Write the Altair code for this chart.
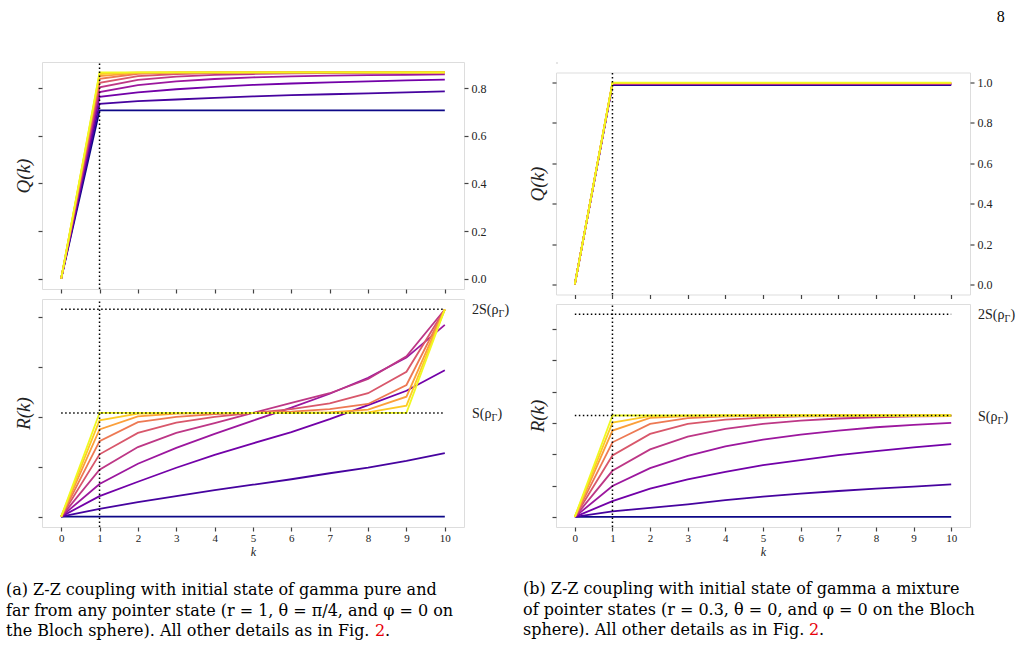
import altair as alt
import pandas as pd

# fragment index k on the horizontal axis
K = list(range(11))

# one colour per coupling strength (plasma)
LINE_COLORS = ["#0d0887", "#46039f", "#7201a8", "#9c179e", "#bd3786",
               "#d8576b", "#ed7953", "#fb9f3a", "#fdca26", "#f0f921"]

# (a) pure initial state: Q(k) and R(k)
Q_PURE = [
    [0.0, 0.706, 0.706, 0.706, 0.706, 0.706, 0.706, 0.706, 0.706, 0.706, 0.706],
    [0.0, 0.734, 0.745, 0.752, 0.759, 0.765, 0.770, 0.774, 0.778, 0.782, 0.786],
    [0.0, 0.763, 0.782, 0.795, 0.805, 0.813, 0.819, 0.824, 0.828, 0.832, 0.835],
    [0.0, 0.783, 0.812, 0.828, 0.838, 0.845, 0.849, 0.852, 0.854, 0.855, 0.857],
    [0.0, 0.803, 0.834, 0.848, 0.855, 0.859, 0.862, 0.863, 0.864, 0.865, 0.865],
    [0.0, 0.822, 0.850, 0.859, 0.863, 0.865, 0.866, 0.866, 0.866, 0.866, 0.866],
    [0.0, 0.839, 0.860, 0.865, 0.866, 0.866, 0.866, 0.866, 0.866, 0.866, 0.866],
    [0.0, 0.850, 0.864, 0.866, 0.866, 0.866, 0.866, 0.866, 0.866, 0.866, 0.866],
    [0.0, 0.859, 0.866, 0.866, 0.866, 0.866, 0.866, 0.866, 0.866, 0.866, 0.866],
    [0.0, 0.866, 0.866, 0.866, 0.866, 0.866, 0.866, 0.866, 0.866, 0.866, 0.866],
]
R_PURE = [
    [0.0, 0.000, 0.000, 0.000, 0.000, 0.000, 0.000, 0.000, 0.000, 0.000, 0.000],
    [0.0, 0.031, 0.058, 0.082, 0.106, 0.128, 0.150, 0.174, 0.197, 0.224, 0.255],
    [0.0, 0.082, 0.140, 0.196, 0.248, 0.294, 0.339, 0.391, 0.447, 0.505, 0.587],
    [0.0, 0.131, 0.212, 0.276, 0.332, 0.385, 0.437, 0.493, 0.557, 0.638, 0.769],
    [0.0, 0.188, 0.279, 0.336, 0.375, 0.416, 0.456, 0.495, 0.552, 0.643, 0.831],
    [0.0, 0.250, 0.336, 0.377, 0.400, 0.416, 0.431, 0.454, 0.495, 0.581, 0.831],
    [0.0, 0.303, 0.379, 0.400, 0.411, 0.416, 0.421, 0.431, 0.452, 0.528, 0.831],
    [0.0, 0.350, 0.402, 0.413, 0.415, 0.416, 0.417, 0.418, 0.429, 0.481, 0.831],
    [0.0, 0.386, 0.413, 0.415, 0.416, 0.416, 0.416, 0.417, 0.418, 0.445, 0.831],
    [0.0, 0.416, 0.416, 0.416, 0.416, 0.416, 0.416, 0.416, 0.416, 0.416, 0.831],
]
S_PURE = 0.416

# (b) mixed initial state: Q(k) and R(k)
Q_MIX = [
    [0.0, 0.988, 0.988, 0.988, 0.988, 0.988, 0.988, 0.988, 0.988, 0.988, 0.988],
    [0.0, 0.990, 0.990, 0.990, 0.990, 0.990, 0.990, 0.990, 0.990, 0.990, 0.990],
    [0.0, 0.992, 0.992, 0.992, 0.992, 0.992, 0.992, 0.992, 0.992, 0.992, 0.992],
    [0.0, 0.994, 0.994, 0.994, 0.994, 0.994, 0.994, 0.994, 0.994, 0.994, 0.994],
    [0.0, 0.995, 0.995, 0.995, 0.995, 0.995, 0.995, 0.995, 0.995, 0.995, 0.995],
    [0.0, 0.996, 0.996, 0.996, 0.996, 0.996, 0.996, 0.996, 0.996, 0.996, 0.996],
    [0.0, 0.997, 0.997, 0.997, 0.997, 0.997, 0.997, 0.997, 0.997, 0.997, 0.997],
    [0.0, 0.998, 0.998, 0.998, 0.998, 0.998, 0.998, 0.998, 0.998, 0.998, 0.998],
    [0.0, 0.999, 0.999, 0.999, 0.999, 0.999, 0.999, 0.999, 0.999, 0.999, 0.999],
    [0.0, 1.000, 1.000, 1.000, 1.000, 1.000, 1.000, 1.000, 1.000, 1.000, 1.000],
]
R_MIX = [
    [0.0, 0.000, 0.000, 0.000, 0.000, 0.000, 0.000, 0.000, 0.000, 0.000, 0.000],
    [0.0, 0.035, 0.058, 0.080, 0.107, 0.129, 0.148, 0.165, 0.180, 0.193, 0.208],
    [0.0, 0.100, 0.180, 0.240, 0.287, 0.330, 0.362, 0.394, 0.420, 0.443, 0.465],
    [0.0, 0.197, 0.311, 0.390, 0.450, 0.493, 0.525, 0.551, 0.572, 0.587, 0.600],
    [0.0, 0.294, 0.431, 0.512, 0.562, 0.594, 0.615, 0.628, 0.636, 0.641, 0.643],
    [0.0, 0.392, 0.530, 0.594, 0.621, 0.634, 0.641, 0.643, 0.645, 0.646, 0.646],
    [0.0, 0.476, 0.594, 0.630, 0.641, 0.645, 0.646, 0.647, 0.647, 0.647, 0.647],
    [0.0, 0.551, 0.632, 0.643, 0.646, 0.647, 0.647, 0.647, 0.647, 0.647, 0.647],
    [0.0, 0.602, 0.643, 0.646, 0.647, 0.647, 0.647, 0.647, 0.647, 0.647, 0.647],
    [0.0, 0.647, 0.647, 0.647, 0.647, 0.647, 0.647, 0.647, 0.647, 0.647, 0.647],
]
S_MIX = 0.647

Q_PURE_TICKS = [0.0, 0.2, 0.4, 0.6, 0.8]
R_PURE_TICKS = [0.0, 0.2, 0.4, 0.6, 0.8]
Q_MIX_TICKS = [0.0, 0.2, 0.4, 0.6, 0.8, 1.0]
R_MIX_TICKS = [0.0, 0.2, 0.4, 0.6, 0.8, 1.0, 1.2]

# entropy reference labels, written as main text + subscript + closing bracket
ENTROPY_LABELS = [("S(ρ", "Γ", ")"), ("2S(ρ", "Γ", ")")]

CAPTION_A = [
    "(a) Z-Z coupling with initial state of gamma pure and",
    "far from any pointer state (r = 1, θ = π/4, and φ = 0 on",
    "the Bloch sphere). All other details as in Fig.",
]
CAPTION_B = [
    "(b) Z-Z coupling with initial state of gamma a mixture",
    "of pointer states (r = 0.3, θ = 0, and φ = 0 on the Bloch",
    "sphere). All other details as in Fig.",
]
FIG_REF = "2"
PAGE_NUMBER = "8"

SERIF = "Liberation Serif"
CAPTION_FONT = "DejaVu Serif"
CAPTION_SIZE = 16
CAPTION_LEAD = 20.5
FRAME = "#444444"
INK = "#222222"

X_SCALE = alt.Scale(domain=[-0.5, 10.5], nice=False, zero=False)
COLOR = alt.Color("line:O", scale=alt.Scale(domain=list(range(10)), range=LINE_COLORS), legend=None)


def to_long(series):
    rows = []
    for i, vals in enumerate(series):
        for k, v in zip(K, vals):
            rows.append({"k": k, "v": v, "line": i})
    return pd.DataFrame(rows)


def x_axis(show_labels):
    return alt.Axis(values=K, domain=False, grid=False, tickSize=4, tickColor=FRAME, tickWidth=1.2,
                    labels=show_labels, labelFont=SERIF, labelFontSize=11, labelColor=INK,
                    labelPadding=1, labelFlush=False,
                    title="k" if show_labels else None, titleFont=SERIF, titleFontStyle="italic",
                    titleFontWeight="normal", titleFontSize=12, titleColor=INK, titlePadding=3)


def y_left(ticks, label):
    return alt.Axis(orient="left", values=ticks, domain=False, grid=False, labels=False,
                    tickSize=4, tickColor=FRAME, tickWidth=1.2,
                    title=label, titleFont=SERIF, titleFontStyle="italic", titleFontWeight="normal",
                    titleFontSize=19, titleColor=INK, titlePadding=4)


def y_right_numbers(ticks):
    return alt.Axis(orient="right", values=ticks, format=".1f", domain=False, grid=False,
                    tickSize=4, tickColor=FRAME, tickWidth=1.2, labelFont=SERIF, labelFontSize=12,
                    labelColor=INK, labelPadding=3, labelFlush=False, title=None)


def dotted_rule():
    return dict(color="black", strokeWidth=1.5, strokeDash=[1.5, 2.5])


def text_at(text, x, y, size, color="black", font=SERIF, dy=0):
    return alt.Chart(pd.DataFrame({"t": [text]})).mark_text(
        align="left", baseline="alphabetic", font=font, fontSize=size, color=color, dy=dy
    ).encode(x=alt.value(x), y=y, text="t:N")


def panel(series, ydom, ticks, w, h, ylabel, bottom, entropy=None, caption=None):
    y_scale = alt.Scale(domain=ydom, nice=False, zero=False)
    xa = x_axis(bottom)
    lines = alt.Chart(to_long(series)).mark_line(strokeWidth=1.8).encode(
        x=alt.X("k:Q", scale=X_SCALE, axis=xa),
        y=alt.Y("v:Q", scale=y_scale, axis=y_left(ticks, ylabel)),
        color=COLOR,
    )
    # vertical marker at k = 1 spanning the whole axis range
    vdf = pd.DataFrame({"k": [1], "lo": [ydom[0]], "hi": [ydom[1]]})
    vaxis = y_right_numbers(ticks) if entropy is None else None
    vline = alt.Chart(vdf).mark_rule(**dotted_rule()).encode(
        x=alt.X("k:Q", axis=xa),
        y=alt.Y("lo:Q", axis=vaxis),
        y2="hi:Q",
    )
    layers = [lines, vline]
    if entropy is not None:
        levels = [entropy, 2 * entropy]
        hdf = pd.DataFrame({"k": [0, 0], "k1": [10, 10], "s": levels})
        layers.append(alt.Chart(hdf).mark_rule(**dotted_rule()).encode(
            x=alt.X("k:Q", axis=xa), x2="k1:Q",
            y=alt.Y("s:Q", axis=None),
        ))
        # S and 2S labels outside the right edge, with a lowered subscript
        widths = [19.5, 26.5]
        for level, (main, sub, close), wm in zip(levels, ENTROPY_LABELS, widths):
            yv = alt.YDatum(level, axis=None)
            layers.append(text_at(main, w + 8, yv, 14, INK, dy=5))
            layers.append(text_at(sub, w + 8 + wm, yv, 10, INK, dy=8))
            layers.append(text_at(close, w + 8 + wm + 6, yv, 14, INK, dy=5))
    if caption is not None:
        text_lines, cx, cy, ref_x = caption
        cdf = pd.DataFrame({"t": ["\n".join(text_lines)]})
        layers.append(alt.Chart(cdf).mark_text(
            align="left", baseline="alphabetic", font=CAPTION_FONT, fontSize=CAPTION_SIZE,
            lineBreak="\n", lineHeight=CAPTION_LEAD, color="black"
        ).encode(x=alt.value(cx), y=alt.value(h + cy), text="t:N"))
        y3 = alt.value(h + cy + 2 * CAPTION_LEAD)
        layers.append(text_at(FIG_REF, ref_x, y3, CAPTION_SIZE, "#e8000b", CAPTION_FONT))
        layers.append(text_at(".", ref_x + 10, y3, CAPTION_SIZE, "black", CAPTION_FONT))
    return alt.layer(*layers).resolve_axis(y="independent").properties(width=w, height=h)


# tiny empty strip that lowers the right-hand column a little
spacer = alt.Chart(pd.DataFrame({"a": [0]})).mark_point(opacity=0).encode(
    x=alt.X("a:Q", axis=None), y=alt.Y("a:Q", axis=None)
).properties(width=1, height=1)

left = alt.vconcat(
    panel(Q_PURE, [-0.0433, 0.9093], Q_PURE_TICKS, 422, 227, "Q(k)", False),
    panel(R_PURE, [-0.0416, 0.873], R_PURE_TICKS, 422, 228, "R(k)", True, entropy=S_PURE,
          caption=(CAPTION_A, -36, 68, 333)),
    spacing=10, bounds="flush",
)
right = alt.vconcat(
    spacer,
    panel(Q_MIX, [-0.05, 1.05], Q_MIX_TICKS, 414, 222, "Q(k)", False),
    panel(R_MIX, [-0.0647, 1.359], R_MIX_TICKS, 414, 223, "R(k)", True, entropy=S_MIX,
          caption=(CAPTION_B, -33, 67, 253)),
    spacing=9.5, bounds="flush",
)

chart = alt.hconcat(left, right, spacing=12).properties(
    title=alt.TitleParams(PAGE_NUMBER, anchor="end", frame="bounds", font=SERIF, fontSize=16,
                          fontWeight="normal", color="black", offset=34, dx=-11),
    padding={"left": 5, "top": 9, "right": 4, "bottom": 3},
).configure_view(stroke=FRAME, strokeWidth=1.2).configure(background="white")

chart.save("out.html", embed_options={"renderer": "svg", "actions": False})
